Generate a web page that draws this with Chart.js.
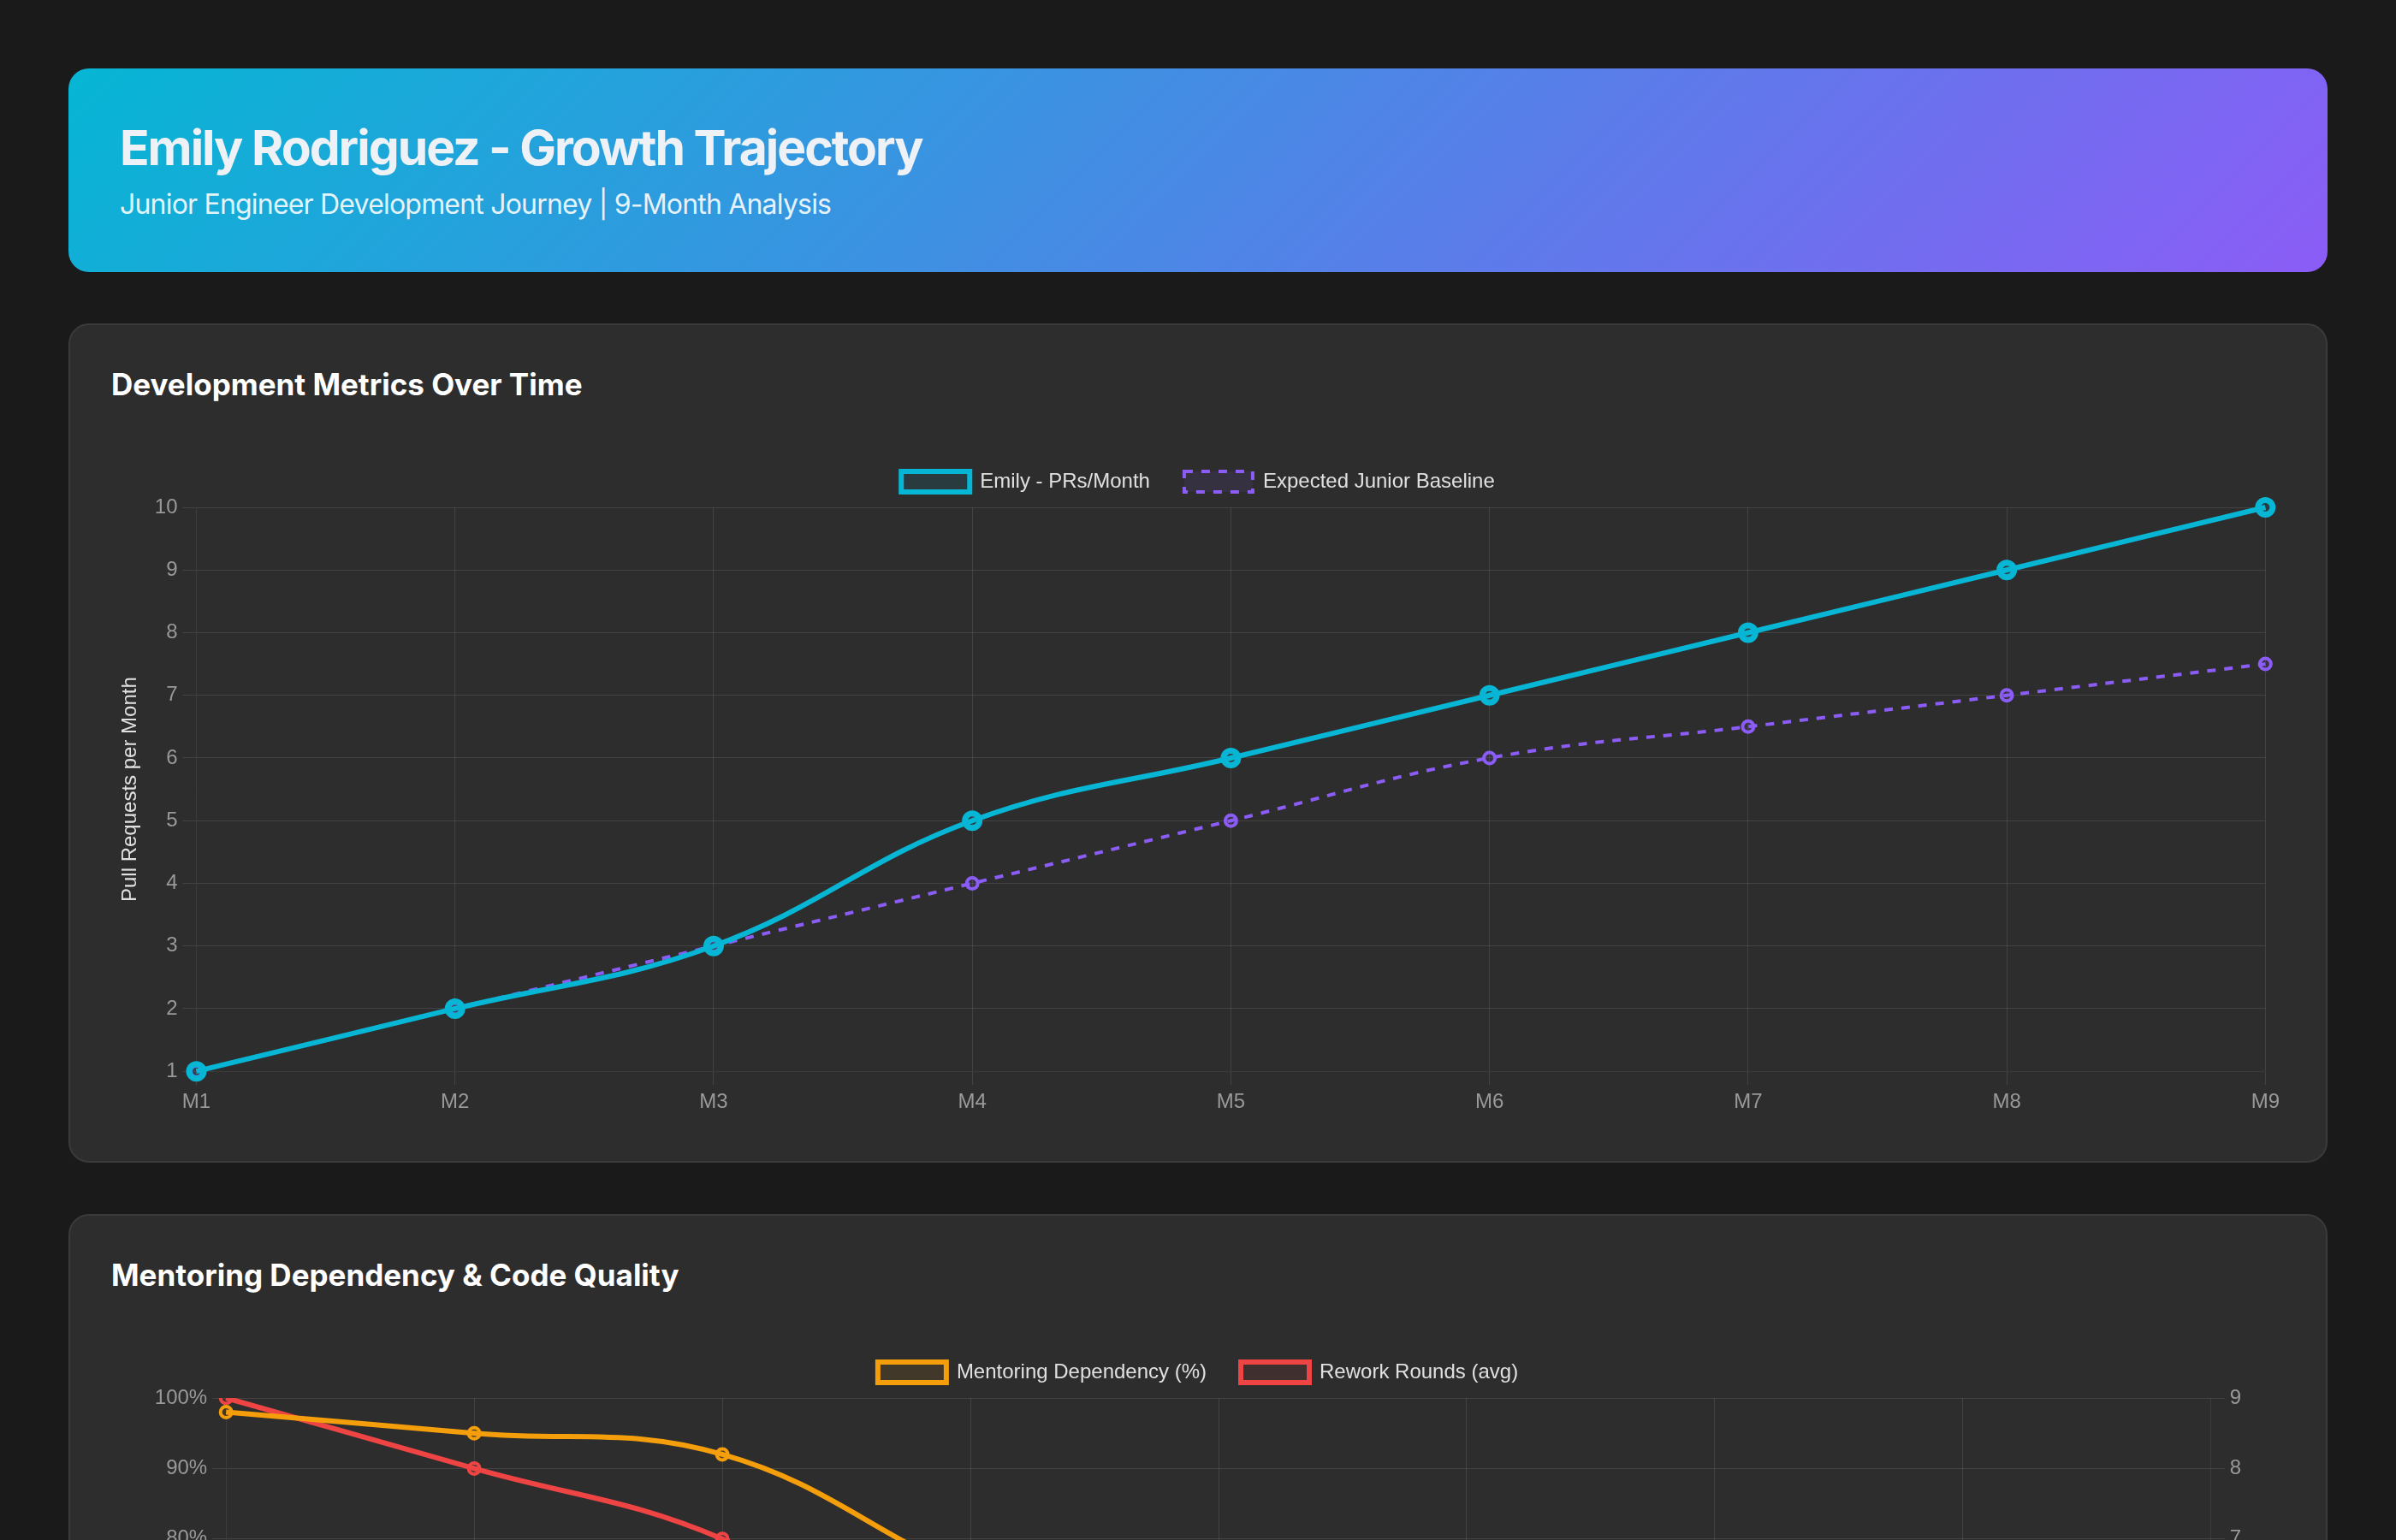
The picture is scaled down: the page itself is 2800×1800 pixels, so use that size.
<!DOCTYPE html>
<html>
<head>
<meta charset="utf-8">
<title>Emily Rodriguez - Growth Trajectory</title>
<script src="https://cdn.jsdelivr.net/npm/chart.js"></script>
<style>
    body {
        margin: 0;
        padding: 80px;
        background: #1a1a1a;
        font-family: Inter, "Noto Sans", sans-serif;
        color: #e0e0e0;
    }
    .header {
        background: linear-gradient(135deg, #06b6d4 0%, #8b5cf6 100%);
        border-radius: 24px;
        padding: 58px 60px 60px 60px;
        margin-bottom: 60px;
    }
    .header h1 {
        margin: 0 0 12px 0;
        font-size: 57px;
        font-weight: 700;
        letter-spacing: -2px;
        color: #eef2f6;
    }
    .header p {
        margin: 0;
        font-size: 32px;
        letter-spacing: -0.8px;
        color: rgba(255, 255, 255, 0.9);
    }
    .card {
        background: #2d2d2d;
        border: 2px solid #3a3a3a;
        border-radius: 24px;
        padding: 48px;
        margin-bottom: 60px;
    }
    .card h2 {
        margin: 0 0 37px 0;
        font-size: 35px;
        font-weight: 700;
        color: #ffffff;
    }
    .chart-box {
        position: relative;
        height: 802px;
    }
</style>
</head>
<body>

<div class="header">
    <h1>Emily Rodriguez - Growth Trajectory</h1>
    <p>Junior Engineer Development Journey | 9-Month Analysis</p>
</div>

<div class="card">
    <h2>Development Metrics Over Time</h2>
    <div class="chart-box"><canvas id="growthChart"></canvas></div>
</div>

<div class="card">
    <h2>Mentoring Dependency &amp; Code Quality</h2>
    <div class="chart-box"><canvas id="mentoringChart"></canvas></div>
</div>

<script>
const months = ['M1', 'M2', 'M3', 'M4', 'M5', 'M6', 'M7', 'M8', 'M9'];
const prsPerMonth = [1, 2, 3, 5, 6, 7, 8, 9, 10];
const baselinePrs = [1, 2, 3, 4, 5, 6, 6.5, 7, 7.5];
const mentoringPct = [98, 95, 92, 75, 62, 50, 40, 32, 25];
const reworkRounds = [9, 8, 7, 5, 4.5, 3.5, 3, 2, 1.5];

Chart.defaults.font.size = 24;
Chart.defaults.color = '#999';

const gridColor = 'rgba(255, 255, 255, 0.1)';

// a bit more room under the legend
const legendGap = {
    id: 'legendGap',
    beforeInit(chart) {
        const fit = chart.legend.fit;
        chart.legend.fit = function () {
            fit.call(this);
            this.height += 8;
        };
    }
};

function axisX() {
    return {
        grid: { color: gridColor, tickLength: 16 },
        ticks: { color: '#999', padding: 6 }
    };
}

function legendOpts() {
    return {
        position: 'top',
        labels: { color: '#e0e0e0', boxWidth: 80, padding: 40 }
    };
}

new Chart(document.getElementById('growthChart'), {
    type: 'line',
    data: {
        labels: months,
        datasets: [{
            label: 'Emily - PRs/Month',
            data: prsPerMonth,
            borderColor: '#06b6d4',
            backgroundColor: 'rgba(6, 182, 212, 0.1)',
            borderWidth: 6,
            pointRadius: 8.5,
            pointBorderWidth: 7,
            tension: 0.4,
        }, {
            label: 'Expected Junior Baseline',
            data: baselinePrs,
            borderColor: '#8b5cf6',
            backgroundColor: 'rgba(139, 92, 246, 0.1)',
            borderWidth: 4,
            borderDash: [10, 10],
            pointRadius: 6.5,
            pointBorderWidth: 4,
            tension: 0.4,
        }]
    },
    plugins: [legendGap],
    options: {
        responsive: true,
        maintainAspectRatio: false,
        animation: false,
        layout: { padding: { top: 4 } },
        plugins: {
            legend: legendOpts(),
        },
        scales: {
            x: axisX(),
            y: {
                grid: { color: gridColor, tickLength: 16 },
                ticks: { color: '#999', padding: 6, stepSize: 1 },
                title: {
                    display: true,
                    text: 'Pull Requests per Month',
                    color: '#e0e0e0',
                    padding: 8
                }
            }
        }
    }
});

new Chart(document.getElementById('mentoringChart'), {
    type: 'line',
    data: {
        labels: months,
        datasets: [{
            label: 'Mentoring Dependency (%)',
            data: mentoringPct,
            borderColor: '#f59e0b',
            backgroundColor: 'rgba(245, 158, 11, 0.1)',
            borderWidth: 6,
            pointRadius: 6.5,
            pointBorderWidth: 4,
            tension: 0.4,
            yAxisID: 'y'
        }, {
            label: 'Rework Rounds (avg)',
            data: reworkRounds,
            borderColor: '#ef4444',
            backgroundColor: 'rgba(239, 68, 68, 0.1)',
            borderWidth: 6,
            pointRadius: 6.5,
            pointBorderWidth: 4,
            tension: 0.4,
            yAxisID: 'y1'
        }]
    },
    plugins: [legendGap],
    options: {
        responsive: true,
        maintainAspectRatio: false,
        animation: false,
        layout: { padding: { top: 4 } },
        plugins: {
            legend: legendOpts(),
        },
        scales: {
            x: axisX(),
            y: {
                position: 'left',
                min: 20,
                max: 100,
                grid: { color: gridColor, tickLength: 16 },
                ticks: {
                    color: '#999',
                    padding: 6,
                    stepSize: 10,
                    callback: (v) => v + '%'
                },
                title: {
                    display: true,
                    text: 'Mentoring Dependency (%)',
                    color: '#e0e0e0',
                    padding: 8
                }
            },
            y1: {
                position: 'right',
                min: 1,
                max: 9,
                grid: { drawOnChartArea: false, color: gridColor, tickLength: 16 },
                ticks: { color: '#999', padding: 6, stepSize: 1 },
                title: {
                    display: true,
                    text: 'Rework Rounds',
                    color: '#e0e0e0',
                    padding: 8
                }
            }
        }
    }
});
</script>
</body>
</html>
